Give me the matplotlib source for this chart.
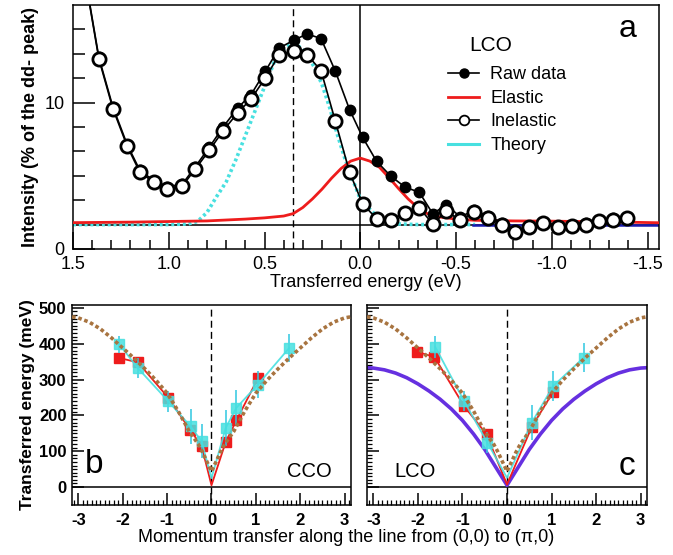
import numpy as np
import matplotlib
matplotlib.use("Agg")
import matplotlib.pyplot as plt
from matplotlib.lines import Line2D
from matplotlib.ticker import MultipleLocator, FixedLocator

plt.rcParams['font.family'] = ['Liberation Sans', 'DejaVu Sans']
plt.rcParams['axes.unicode_minus'] = False

# ---- panel a : RIXS spectrum of LCO ----
e_pts = [1.44, 1.365, 1.292, 1.217, 1.151, 1.078, 1.008, 0.930, 0.861, 0.788,
         0.716, 0.640, 0.570, 0.496, 0.423, 0.348, 0.278, 0.205, 0.130, 0.056,
         -0.012, -0.085, -0.160, -0.235, -0.308, -0.379, -0.449, -0.522, -0.595, -0.669,
         -0.739, -0.809, -0.883, -0.956, -1.031, -1.104, -1.179, -1.247, -1.321, -1.394]
raw = [20.6, 13.7, 9.65, 6.55, 4.45, 3.6, 3.1, 3.3, 4.75, 6.35,
       8.0, 9.56, 10.66, 12.57, 14.48, 15.1, 15.63, 15.25, 12.57, 9.43,
       7.16, 5.19, 3.96, 3.06, 2.65, 0.88, 1.64, 0.63, 1.17, 0.7,
       0.15, -0.5, -0.1, 0.25, -0.1, -0.05, 0.1, 0.35, 0.5, 0.65]
inelastic = [20.5, 13.58, 9.51, 6.42, 4.29, 3.47, 2.93, 3.14, 4.56, 6.09,
             7.70, 9.16, 10.30, 12.02, 13.93, 14.2, 13.93, 12.62, 8.47, 4.29,
             1.71, 0.48, 0.41, 0.96, 1.37, 0.05, 1.09, 0.36, 1.01, 0.55,
             0.0, -0.6, -0.19, 0.14, -0.19, -0.14, 0.0, 0.27, 0.41, 0.55]

el_x = [1.56, 1.2, 1.0, 0.8, 0.6, 0.5, 0.4, 0.35, 0.3, 0.25, 0.2, 0.15, 0.1, 0.05,
        0.0, -0.05, -0.1, -0.15, -0.2, -0.25, -0.3, -0.35, -0.4, -0.5, -0.6,
        -0.8, -1.0, -1.3, -1.56]
el_y = [0.15, 0.2, 0.25, 0.3, 0.45, 0.55, 0.7, 0.9, 1.4, 2.1, 2.9, 3.8, 4.6, 5.2,
        5.45, 5.2, 4.7, 3.85, 2.95, 2.1, 1.4, 0.9, 0.65, 0.45, 0.35,
        0.3, 0.28, 0.22, 0.15]

th_x = [1.56, 1.0, 0.9, 0.85, 0.8, 0.75, 0.7, 0.65, 0.6, 0.55, 0.5, 0.45, 0.4,
        0.36, 0.32, 0.28, 0.24, 0.2, 0.16, 0.12, 0.08, 0.04, 0.0, -0.04, -0.08,
        -0.12, -0.16, -0.2, -0.3, -0.6]
th_y = [0, 0, 0.05, 0.25, 1.0, 2.3, 3.5, 5.3, 7.3, 9.3, 11.3, 13.3, 14.4,
        14.8, 14.6, 14.0, 12.9, 11.5, 9.6, 7.4, 5.4, 3.7, 2.1, 1.4, 0.8,
        0.35, 0.15, 0.05, 0, 0]

bg_x = [-0.59, -1.56]
bg_y = [0, 0]

# ---- panels b, c : dispersion ----
spin_q = [-3.14, -3.0, -2.75, -2.5, -2.25, -2.0, -1.75, -1.5, -1.25, -1.0, -0.75, -0.5,
          -0.3, -0.2, -0.1, 0.0, 0.1, 0.2, 0.3, 0.5, 0.75, 1.0, 1.25, 1.5, 1.75,
          2.0, 2.25, 2.5, 2.75, 3.0, 3.14]
spin_E = [475, 472, 460, 441, 416, 388, 360, 330, 298, 262, 212, 155,
          120, 97, 70, 44, 70, 97, 120, 155, 212, 262, 298, 330, 360,
          388, 416, 441, 460, 472, 475]

lsw_q = [-3.14, -3.0, -2.75, -2.5, -2.25, -2.0, -1.75, -1.5, -1.25, -1.0, -0.75, -0.5,
         -0.25, 0.0, 0.25, 0.5, 0.75, 1.0, 1.25, 1.5, 1.75, 2.0, 2.25, 2.5, 2.75,
         3.0, 3.14]
lsw_E = [333, 332, 327, 318, 305, 288, 268, 245, 218, 186, 148, 105,
         55, 5, 55, 105, 148, 186, 218, 245, 268, 288, 305, 318, 327,
         332, 333]

cco_red_q = [-2.075, -1.66, -0.97, -0.485, -0.224, 0.0, 0.32, 0.56, 1.045]
cco_red_E = [360, 348, 249, 160, 115, 5, 126, 186, 303]
cco_cy_q = [-2.075, -1.66, -0.97, -0.47, -0.224, 0.0, 0.32, 0.56, 1.045, 1.75]
cco_cy_E = [398, 332, 239, 169, 128, 25, 165, 221, 286, 388]
cco_cy_err = [23, 28, 30, 48, 48, 0, 50, 49, 37, 40]

lco_red_q = [-2.01, -1.63, -0.963, -0.459, 0.0, 0.556, 1.037]
lco_red_E = [377, 363, 226, 147, 7, 168, 266]
lco_cy_q = [-1.61, -0.963, -0.44, 0.0, 0.556, 1.037, 1.72]
lco_cy_E = [391, 240, 124, 26, 180, 282, 361]
lco_cy_err = [31, 28, 30, 0, 50, 43, 40]

RED = '#ee1c1c'
CYAN = '#48e0e0'
BROWN = '#a87440'
PURPLE = '#6630e0'

fig = plt.figure(figsize=(6.73, 5.55), dpi=100)
ax = fig.add_axes([0.1085, 0.5514, 0.8707, 0.4396])
axb = fig.add_axes([0.107, 0.0901, 0.4145, 0.3604])
axc = fig.add_axes([0.5453, 0.0901, 0.4161, 0.3604])

# ---------- panel a ----------
ax.axhline(0, color='black', lw=1.1, zorder=1)
ax.axvline(0, color='black', lw=1.1, zorder=1)
ax.axvline(0.35, color='black', lw=1.0, ls=(0, (5, 3)), zorder=1)
ax.plot(th_x, th_y, color=CYAN, lw=2.6, ls=(0, (0.8, 0.8)), zorder=2)
ax.plot(bg_x, bg_y, color='#1a1ab0', lw=1.8, zorder=2)
ax.plot(el_x, el_y, color=RED, lw=2.0, zorder=3)
ax.plot(e_pts, raw, color='black', lw=1.2, marker='o', ms=7.5, mfc='black', mec='black', zorder=4)
ax.plot(e_pts, inelastic, color='black', lw=1.2, marker='o', ms=9.5, mfc='white',
        mec='black', mew=2.0, zorder=5)

ax.set_xlim(1.5, -1.56)
ax.set_ylim(-2, 18)
ax.xaxis.set_minor_locator(MultipleLocator(0.1))
ax.set_xticks([1.5, 1.0, 0.5, 0.0, -0.5, -1.0, -1.5],
              ['1.5', '1.0', '0.5', '0.0', '-0.5', '-1.0', '-1.5'])
ax.set_yticks([-2, 10], ['0', '10'])
ax.yaxis.set_minor_locator(FixedLocator([2, 4, 6, 8, 12, 14, 16]))
ax.tick_params(axis='x', which='major', direction='in', length=12, width=1.1,
               labelsize=13, pad=5, top=False)
ax.tick_params(axis='x', which='minor', direction='in', length=6.5, width=1.1, top=False)
ax.tick_params(axis='y', which='major', direction='in', length=16, width=1.1,
               labelsize=13, pad=6, right=False)
ax.tick_params(axis='y', which='minor', direction='in', length=8.5, width=1.1, right=False)
for s in ax.spines.values():
    s.set_linewidth(1.1)
ax.set_xlabel('Transferred energy (eV)', fontsize=13, labelpad=1)
ax.set_ylabel('Intensity (% of the dd- peak)', fontsize=13, fontweight='bold', labelpad=4)

handles = [
    Line2D([], [], color='black', lw=1.2, marker='o', ms=6.5, mfc='black'),
    Line2D([], [], color=RED, lw=2.0),
    Line2D([], [], color='black', lw=1.2, marker='o', ms=7, mfc='white', mew=1.3),
    Line2D([], [], color=CYAN, lw=2.2),
]
ax.legend(handles, ['Raw data', 'Elastic', 'Inelastic', 'Theory'], loc='upper left',
          bbox_to_anchor=(0.612, 0.815), frameon=False, fontsize=13, handlelength=1.75,
          handletextpad=0.6, labelspacing=0.36)
ax.text(0.712, 0.836, 'LCO', transform=ax.transAxes, fontsize=15, ha='center', va='center')
ax.text(0.947, 0.9, 'a', transform=ax.transAxes, fontsize=23, ha='center', va='center')


# ---------- panels b, c ----------
def disp_panel(a, red_q, red_E, cy_q, cy_E, cy_err, show_lsw):
    a.axhline(0, color='black', lw=1.1, zorder=1)
    a.axvline(0, color='black', lw=1.0, ls=(0, (5, 3)), zorder=1)
    if show_lsw:
        a.plot(lsw_q, lsw_E, color=PURPLE, lw=2.6, zorder=2)
    rq = np.array(red_q)
    keep_r = [i for i, q in enumerate(rq) if q != 0.0]
    a.plot(red_q, red_E, color=RED, lw=1.3, marker='s', ms=6.5, markevery=keep_r, zorder=3)
    cq = np.array(cy_q)
    cE = np.array(cy_E)
    ce = np.array(cy_err)
    m = cq != 0.0
    a.plot(cy_q, cy_E, color=CYAN, lw=1.3, zorder=4, alpha=0.9)
    a.errorbar(cq[m], cE[m], yerr=ce[m], fmt='s', ms=6.5, color=CYAN, ecolor='#30c8e0',
               elinewidth=1.3, capsize=0, alpha=0.85, zorder=4)
    a.plot(spin_q, spin_E, color=BROWN, lw=2.6, ls=(0, (1, 0.75)), zorder=5)
    a.set_xlim(-3.1416, 3.1416)
    a.set_ylim(-50, 508)
    a.xaxis.set_major_locator(MultipleLocator(1))
    a.xaxis.set_minor_locator(MultipleLocator(0.1))
    a.set_yticks([0, 100, 200, 300, 400, 500])
    a.yaxis.set_minor_locator(FixedLocator(np.arange(10, 501, 10)))
    a.tick_params(axis='x', which='major', direction='in', length=8.6, width=1.1,
                  labelsize=12, pad=6, top=False)
    a.tick_params(axis='x', which='minor', direction='in', length=3.6, width=0.9, top=False)
    a.tick_params(axis='y', which='major', direction='in', length=8.6, width=1.1,
                  labelsize=12, pad=4, right=False)
    a.tick_params(axis='y', which='minor', direction='in', length=3.6, width=0.9, right=False)
    for lab in a.get_xticklabels() + a.get_yticklabels():
        lab.set_fontweight('bold')
    for s in a.spines.values():
        s.set_linewidth(1.1)


disp_panel(axb, cco_red_q, cco_red_E, cco_cy_q, cco_cy_E, cco_cy_err, False)
disp_panel(axc, lco_red_q, lco_red_E, lco_cy_q, lco_cy_E, lco_cy_err, True)
axc.tick_params(axis='y', labelleft=False)
axb.set_ylabel('Transferred energy (meV)', fontsize=12.5, fontweight='bold', labelpad=3)

axb.text(0.079, 0.2, 'b', transform=axb.transAxes, fontsize=24, ha='center', va='center')
axb.text(0.85, 0.165, 'CCO', transform=axb.transAxes, fontsize=14.5, ha='center', va='center')
axc.text(0.171, 0.165, 'LCO', transform=axc.transAxes, fontsize=14.5, ha='center', va='center')
axc.text(0.929, 0.19, 'c', transform=axc.transAxes, fontsize=24, ha='center', va='center')

fig.text(0.515, 1 - 537 / 555, 'Momentum transfer along the line from (0,0) to (\u03c0,0)',
         fontsize=13, ha='center', va='center')

fig.savefig('out.png', dpi=100)
